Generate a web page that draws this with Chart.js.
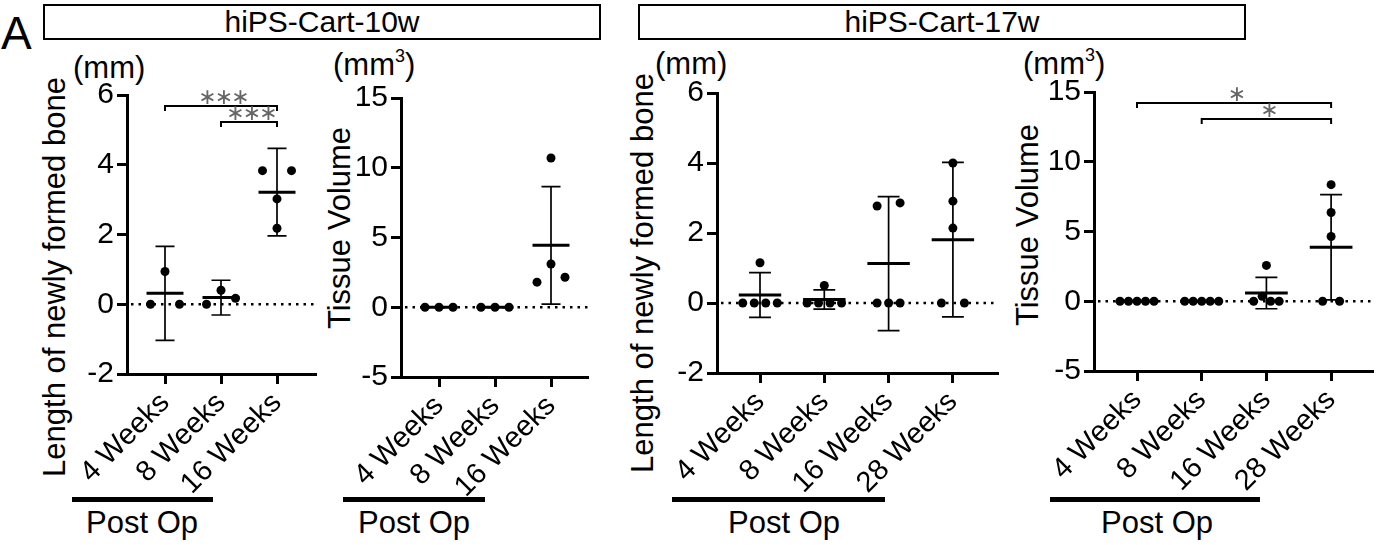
<!DOCTYPE html>
<html>
<head>
<meta charset="utf-8">
<script src="https://cdn.jsdelivr.net/npm/chart.js@4.4.0/dist/chart.umd.min.js"></script>
<style>
body { margin: 0; background: #fff; font-family: "Liberation Sans", Arial, sans-serif; }
#fig { position: relative; width: 1383px; height: 545px; overflow: hidden; }
canvas { position: absolute; left: 0; top: 0; }
.lbl { position: absolute; font-size: 31px; line-height: 1; white-space: nowrap; color: #000; }
.rot { transform: translate(-50%, -50%) rotate(-90deg); }
.box { position: absolute; top: 4px; height: 36px; border: 2px solid #000; box-sizing: border-box;
       font-size: 30px; line-height: 32px; text-align: center; }
.bar { position: absolute; height: 5px; background: #000; }
sup { font-size: 0.58em; vertical-align: 0.75em; line-height: 0; }
</style>
</head>
<body>
<div id="fig">
  <div class="lbl" style="left:1px;top:10px;font-size:46px">A</div>
  <div class="box" style="left:43px;width:558px">hiPS-Cart-10w</div>
  <div class="box" style="left:638px;width:608px">hiPS-Cart-17w</div>

  <div class="lbl" style="left:73px;top:52px">(mm)</div>
  <div class="lbl" style="left:333px;top:49px">(mm<sup>3</sup>)</div>
  <div class="lbl" style="left:655px;top:48px">(mm)</div>
  <div class="lbl" style="left:1023px;top:48px">(mm<sup>3</sup>)</div>

  <div class="lbl rot" style="left:54px;top:277px">Length of newly formed bone</div>
  <div class="lbl rot" style="left:339px;top:228px">Tissue Volume</div>
  <div class="lbl rot" style="left:642px;top:273px">Length of newly formed bone</div>
  <div class="lbl rot" style="left:1027px;top:225px">Tissue Volume</div>

  <div class="bar" style="left:72px;top:497px;width:141px"></div>
  <div class="bar" style="left:343px;top:497px;width:142px"></div>
  <div class="bar" style="left:672px;top:497px;width:213px"></div>
  <div class="bar" style="left:1050px;top:497px;width:210px"></div>
  <div class="lbl" style="left:142px;top:507px;transform:translateX(-50%)">Post Op</div>
  <div class="lbl" style="left:414px;top:507px;transform:translateX(-50%)">Post Op</div>
  <div class="lbl" style="left:784px;top:507px;transform:translateX(-50%)">Post Op</div>
  <div class="lbl" style="left:1157px;top:507px;transform:translateX(-50%)">Post Op</div>

  <canvas id="c1" width="1383" height="545"></canvas>
  <canvas id="c2" width="1383" height="545"></canvas>
  <canvas id="c3" width="1383" height="545"></canvas>
  <canvas id="c4" width="1383" height="545"></canvas>
</div>
<script>
// categories
const cats10 = ['4 Weeks', '8 Weeks', '16 Weeks'];
const cats17 = ['4 Weeks', '8 Weeks', '16 Weeks', '28 Weeks'];

// individual values per group
const len10 = [[0, 0.94, 0], [0, 0.4, 0.17], [3.83, 3.02, 3.83, 2.18]];
const vol10 = [[0, 0, 0], [0, 0, 0], [10.7, 1.8, 3.1, 2.15]];
const len17 = [[0, 1.15, 0, 0, 0], [0, 0.5, 0, 0, 0], [0, 2.77, 0, 2.86, 0], [0, 4.0, 2.91, 2.14, 0]];
const vol17 = [[0, 0, 0, 0, 0], [0, 0, 0, 0, 0], [0, 2.57, 0.35, 0, 0], [0, 4.64, 6.36, 8.36, 0]];

// y tick labels
const lenTicks = [-2, 0, 2, 4, 6];
const volTicks = [-5, 0, 5, 10, 15];

// significance: [from group, to group, stars]
const sig10 = [[0, 2, '***'], [1, 2, '***']];
const sig17 = [[0, 3, '*'], [1, 3, '*']];

Chart.defaults.font.family = '"Liberation Sans", Arial, sans-serif';
Chart.defaults.color = '#000';

// t values for 95% CI
const tval = {2: 4.303, 3: 3.182, 4: 2.776};

function stats(v, kind) {
    const n = v.length;
    const m = v.reduce((a, b) => a + b, 0) / n;
    const sd = Math.sqrt(v.reduce((a, b) => a + (b - m) ** 2, 0) / (n - 1));
    const e = kind === 'ci' ? tval[n - 1] * sd / Math.sqrt(n) : sd;
    return {m: m, lo: m - e, hi: m + e};
}

// spread dots that sit at nearly the same height
function spread(vals, gx, thr) {
    const order = vals.map((v, i) => i).sort((a, b) => vals[a] - vals[b]);
    const groups = [];
    let cur = [order[0]];
    for (let k = 1; k < order.length; k++) {
        if (vals[order[k]] - vals[order[k - 1]] < thr) cur.push(order[k]);
        else { groups.push(cur); cur = [order[k]]; }
    }
    groups.push(cur);
    const off = vals.map(() => 0);
    groups.forEach(g => {
        g.sort((a, b) => a - b);
        const k = g.length, step = k === 2 ? 2 * gx : gx;
        g.forEach((idx, j) => { off[idx] = (j - (k - 1) / 2) * step; });
    });
    return off;
}

const panels = [
    {id: 'c1', cats: cats10, data: len10, ticks: lenTicks, err: 'ci', sig: sig10,
     left: 127, right: 316, top: 95, bottom: 374, first: 165, step: 56, gap: 14.5},
    {id: 'c2', cats: cats10, data: vol10, ticks: volTicks, err: 'sd', sig: [],
     left: 401, right: 588, top: 98, bottom: 377, first: 439, step: 56, gap: 14},
    {id: 'c3', cats: cats17, data: len17, ticks: lenTicks, err: 'ci', sig: [],
     left: 717, right: 998, top: 93, bottom: 373, first: 760, step: 64.3, gap: 11.5},
    {id: 'c4', cats: cats17, data: vol17, ticks: volTicks, err: 'sd', sig: sig17,
     left: 1094, right: 1373, top: 92, bottom: 371, first: 1137, step: 64.7, gap: 8.5}
];

function makeDecor(p) {
    return {
        id: 'decor',
        beforeDatasetsDraw(chart) {
            const ctx = chart.ctx, y = chart.scales.y;
            const y0 = y.getPixelForValue(0);
            ctx.save();
            ctx.strokeStyle = '#000';
            ctx.lineWidth = 2.5;
            ctx.setLineDash([2.5, 5]);
            ctx.beginPath();
            ctx.moveTo(chart.chartArea.left + 4, y0);
            ctx.lineTo(chart.chartArea.right, y0);
            ctx.stroke();
            ctx.restore();
        },
        afterDatasetsDraw(chart) {
            const ctx = chart.ctx, x = chart.scales.x, y = chart.scales.y;
            ctx.save();
            ctx.strokeStyle = '#000';
            p.data.forEach((vals, i) => {
                const s = stats(vals, p.err);
                const cx = x.getPixelForValue(i);
                const mh = 0.33 * p.step, ch = 0.17 * p.step;
                const yl = y.getPixelForValue(s.lo), yh = y.getPixelForValue(s.hi), ym = y.getPixelForValue(s.m);
                ctx.lineWidth = 1.7;
                ctx.beginPath();
                ctx.moveTo(cx, yl); ctx.lineTo(cx, yh);
                ctx.moveTo(cx - ch, yl); ctx.lineTo(cx + ch, yl);
                ctx.moveTo(cx - ch, yh); ctx.lineTo(cx + ch, yh);
                ctx.stroke();
                ctx.lineWidth = 3;
                ctx.beginPath();
                ctx.moveTo(cx - mh, ym); ctx.lineTo(cx + mh, ym);
                ctx.stroke();
            });
            // comparison brackets
            p.sig.forEach((b, k) => {
                const x1 = x.getPixelForValue(b[0]), x2 = x.getPixelForValue(b[1]);
                const by = chart.chartArea.top + 11 + k * 16;
                ctx.lineWidth = 2;
                ctx.beginPath();
                ctx.moveTo(x1, by + 5); ctx.lineTo(x1, by); ctx.lineTo(x2, by); ctx.lineTo(x2, by + 5);
                ctx.stroke();
                ctx.fillStyle = '#666';
                ctx.font = '22px "DejaVu Sans"';
                ctx.textAlign = 'center';
                ctx.textBaseline = 'middle';
                const n = b[2].length, mid = (x1 + x2) / 2 + 3;
                for (let c = 0; c < n; c++) {
                    ctx.fillText('\u2217', mid + (c - (n - 1) / 2) * 16.5, by - 8);
                }
            });
            ctx.restore();
        }
    };
}

panels.forEach(p => {
    const yMin = p.ticks[0], yMax = p.ticks[p.ticks.length - 1];
    const pxPerUnit = (p.bottom - p.top) / (yMax - yMin);
    const pts = [];
    p.data.forEach((vals, i) => {
        const off = spread(vals, p.gap / p.step, p.gap / pxPerUnit);
        vals.forEach((v, j) => pts.push({x: i + off[j], y: v}));
    });
    const axisGrid = {drawOnChartArea: false, tickLength: 10, tickWidth: 3, tickColor: '#000'};
    const axisBorder = {display: true, width: 3, color: '#000'};

    new Chart(document.getElementById(p.id), {
        type: 'scatter',
        data: {
            datasets: [{
                data: pts,
                pointRadius: 4.5,
                pointHoverRadius: 4.5,
                backgroundColor: '#000',
                borderColor: '#000',
                borderWidth: 0
            }]
        },
        options: {
            responsive: false,
            animation: false,
            events: [],
            layout: {padding: {left: p.left - 100, top: p.top, right: 1383 - p.right, bottom: 545 - p.bottom - 150}},
            plugins: {legend: {display: false}, tooltip: {enabled: false}},
            scales: {
                x: {
                    type: 'linear',
                    min: -(p.first - p.left) / p.step,
                    max: (p.right - p.first) / p.step,
                    afterFit: s => { s.height = 150; },
                    afterBuildTicks: s => { s.ticks = p.cats.map((c, i) => ({value: i})); },
                    grid: axisGrid,
                    border: axisBorder,
                    ticks: {minRotation: 45, maxRotation: 45, autoSkip: false, padding: 2,
                            font: {size: 29}, callback: v => p.cats[v]}
                },
                y: {
                    min: yMin,
                    max: yMax,
                    afterFit: s => { s.width = 100; },
                    afterBuildTicks: s => { s.ticks = p.ticks.map(v => ({value: v})); },
                    grid: axisGrid,
                    border: axisBorder,
                    ticks: {padding: 3, font: {size: 30}}
                }
            }
        },
        plugins: [makeDecor(p)]
    });
});
</script>
</body>
</html>
